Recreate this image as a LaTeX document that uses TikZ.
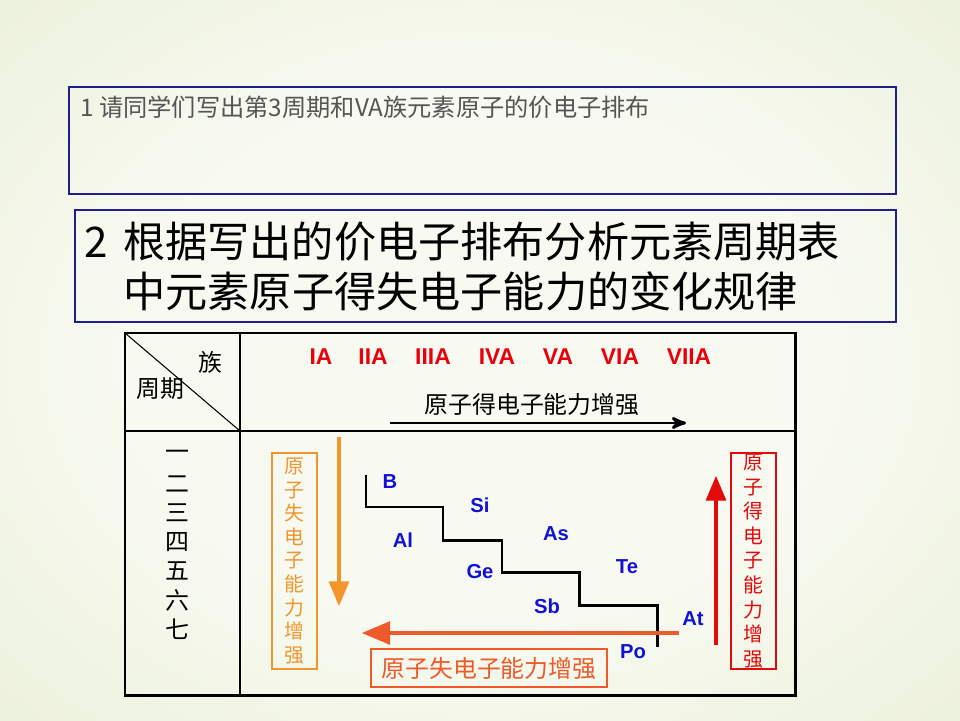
\documentclass[tikz,border=0pt]{standalone}
\usepackage{fontspec}
\setmainfont{Liberation Sans}
\newfontfamily\cjk{Noto Sans CJK SC}
\usepackage{tikz}
\usetikzlibrary{arrows}
\usetikzlibrary{positioning}
\definecolor{bgin}{HTML}{F8FAF1}
\definecolor{bgout}{HTML}{DDE6C2}
\definecolor{boxblue}{HTML}{1E1E8C}
\definecolor{asktext}{HTML}{555555}
\definecolor{grpred}{HTML}{E8000B}
\definecolor{elblue}{HTML}{1212D6}
\definecolor{loseorange}{HTML}{F2962C}
\definecolor{losered}{HTML}{EE5A2A}
\definecolor{gainred}{HTML}{E20A0A}
\pgfdeclareradialshading{slidebg}{\pgfpoint{0bp}{0bp}}{color(0bp)=(bgin); color(18bp)=(bgin); color(58bp)=(bgout); color(80bp)=(bgout)}
\tikzset{every node/.style={inner sep=0pt},
  titlebox/.style={draw=boxblue, line width=0.6pt},
  tasktext/.style={anchor=west, font=\cjk\fontsize{24}{27}\selectfont},
  tabletext/.style={font=\cjk\fontsize{13.6}{15}\selectfont},
  grouplabel/.style={text=grpred, font=\fontsize{13}{15}\selectfont\bfseries},
  element/.style={text=elblue, font=\fontsize{11.5}{13}\selectfont\bfseries},
  vertbox/.style={minimum width=0.9cm, minimum height=4.32cm, line width=0.7pt, align=center, font=\cjk\fontsize{11.3}{13.4}\selectfont},
  gridline/.style={line width=0.85pt},
  bigarrow/.style={-triangle 45, line width=2.3pt}}
\begin{document}
\begin{tikzpicture}[x=0.02cm, y=-0.02cm]
\useasboundingbox (0,0) rectangle (960,720);
\shade [shading=slidebg] (0,0) rectangle (960,720);
\draw [titlebox] (69,87) rectangle (896,194);
\node [anchor=west, text=asktext, font=\cjk\fontsize{13.8}{16}\selectfont] (ask) at (80,107) {1 请同学们写出第3周期和VA族元素原子的价电子排布};
\draw [titlebox] (75,210) rectangle (896,322);
\node [tasktext] (task1) at (84,242) {\makebox[0.78cm][l]{2}根据写出的价电子排布分析元素周期表};
\node [tasktext] (task2) at (123,291) {中元素原子得失电子能力的变化规律};
\draw [line width=1.7pt] (125,333) rectangle (795,695);
\draw [gridline] (240,333) -- (240,695);
\draw [gridline] (125,431) -- (795,431);
\draw [line width=0.6pt] (125,333) -- (240,431);
\node [tabletext] (zu) at (210,362) {族};
\node [tabletext] (zhouqi) at (160,389) {周期};
\foreach \g/\x in {IA/321, IIA/373, IIIA/433, IVA/497, VA/558, VIA/620, VIIA/689}
  \node [grouplabel] (g\g) at (\x,357) {\g};
\node [tabletext] (gainh) at (532,404) {原子得电子能力增强};
\coordinate (gh0) at (390,423);
\coordinate (gh1) at (686,423);
\draw [-stealth', line width=1.7pt] (gh0) -- (gh1);
\foreach \n [count=\i] in {一,二,三,四,五,六,七}
  \node [tabletext] (p\i) at (177,{426+29*\i}) {\n};
\node [vertbox, draw=loseorange, text=loseorange] (losev) at (294.5,561) {原\\子\\失\\电\\子\\能\\力\\增\\强};
\coordinate (lv0) at (339,437);
\coordinate (lv1) at (339,606);
\draw [bigarrow, loseorange] (lv0) -- (lv1);
\draw [line width=1.7pt] (366,475) |- (443,507) |- (502,540) |- (579,572) |- (657,605) -- (657,647);
\foreach \e/\x/\y in {B/390/482, Si/480/505, Al/403/540, As/556/534, Ge/480/572, Te/627/567, Sb/547/606, At/693/619, Po/633/652}
  \node [element] (\e) at (\x,\y) {\e};
\coordinate (lh0) at (679,633);
\coordinate (lh1) at (362,633);
\draw [bigarrow, losered, line width=2.8pt] (lh0) -- (lh1);
\node [draw=losered, text=losered, line width=0.7pt, minimum width=4.72cm, minimum height=0.76cm, tabletext] (loseh) at (489,668) {原子失电子能力增强};
\coordinate (gv0) at (716,645);
\coordinate (gv1) at (716,476);
\draw [bigarrow, gainred] (gv0) -- (gv1);
\node [vertbox, draw=gainred, text=gainred, font=\cjk\fontsize{11.3}{14}\selectfont] (gainv) at (753.5,561) {原\\子\\得\\电\\子\\能\\力\\增\\强};
\end{tikzpicture}
\end{document}
